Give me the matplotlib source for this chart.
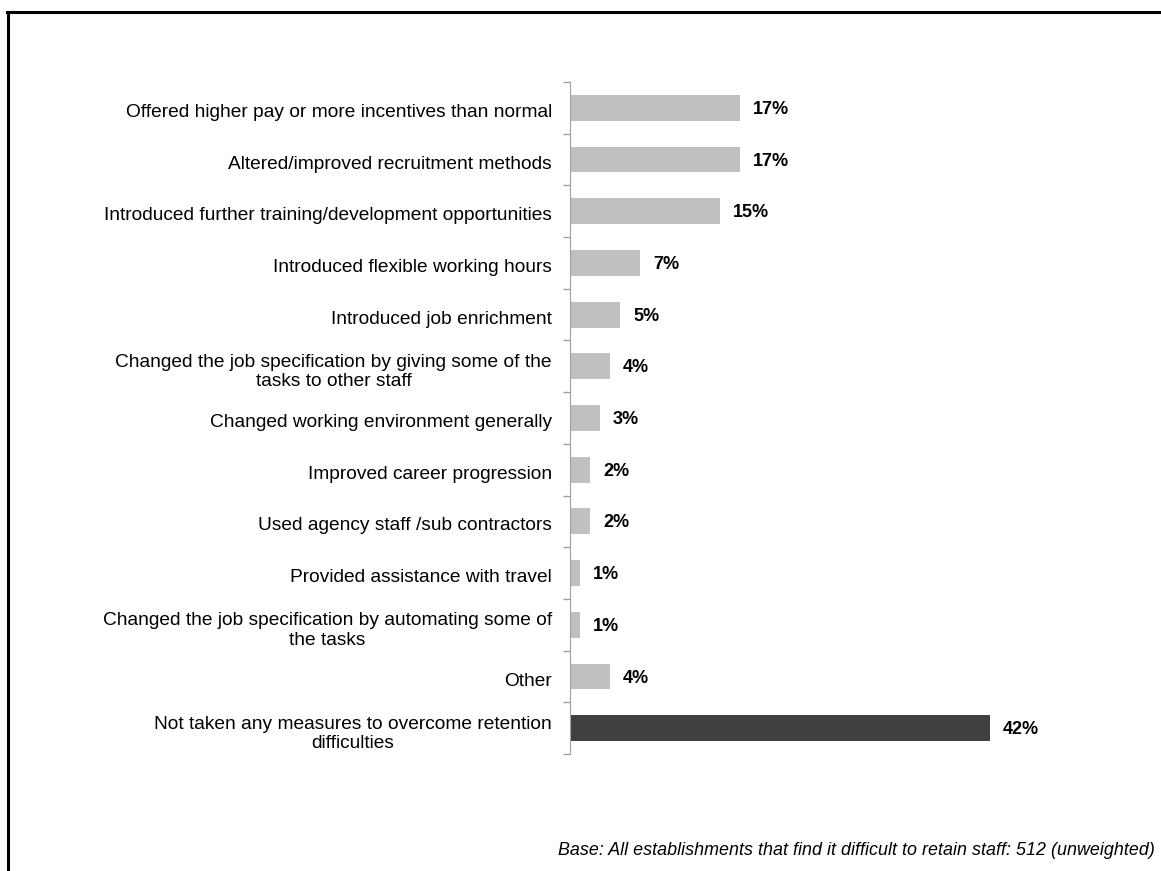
import numpy as np
import matplotlib.pyplot as plt
from matplotlib.lines import Line2D

plt.rcParams['font.family'] = ['Liberation Sans', 'DejaVu Sans']

measures = [
    "Offered higher pay or more incentives than normal",
    "Altered/improved recruitment methods",
    "Introduced further training/development opportunities",
    "Introduced flexible working hours",
    "Introduced job enrichment",
    "Changed the job specification by giving some of the\ntasks to other staff",
    "Changed working environment generally",
    "Improved career progression",
    "Used agency staff /sub contractors",
    "Provided assistance with travel",
    "Changed the job specification by automating some of\nthe tasks",
    "Other",
    "Not taken any measures to overcome retention\ndifficulties",
]
shares = [17, 17, 15, 7, 5, 4, 3, 2, 2, 1, 1, 4, 42]
base_note = "Base: All establishments that find it difficult to retain staff: 512 (unweighted)"

fig = plt.figure(figsize=(11.61, 8.71), dpi=100)
ax = fig.add_axes([570 / 1161, 1 - 754 / 871, 500 / 1161, 672 / 871])

n = len(measures)
y = np.arange(n)
colors = ['#c0c0c0'] * (n - 1) + ['#404040']
ax.barh(y, shares, height=0.5, color=colors)

for yi, v in zip(y, shares):
    ax.text(v + 1.3, yi + 0.03, f"{v}%", va='center', ha='left', fontsize=13, fontweight='bold')

ax.set_ylim(n - 0.5, -0.5)
ax.set_xlim(0, 50)

# category labels sit between the boundary ticks
ax.set_yticks(y + 0.05)
ax.set_yticklabels(measures, fontsize=13.8, linespacing=1.2, multialignment='center')
ax.tick_params(axis='y', length=0, pad=13)
ax.set_yticks(np.arange(n + 1) - 0.5, minor=True)
ax.tick_params(axis='y', which='minor', length=5, color='#a0a0a0', width=1)
ax.set_xticks([])

for s in ['top', 'right', 'bottom']:
    ax.spines[s].set_visible(False)
ax.spines['left'].set_color('#a0a0a0')

fig.text(1155 / 1161, 1 - 850 / 871, base_note, ha='right', va='center',
         fontsize=12.85, style='italic')

# outer frame (left and top edges)
fig.add_artist(Line2D([8 / 1161, 8 / 1161], [0, 1 - 12 / 871], transform=fig.transFigure,
                      color='black', lw=2.2))
fig.add_artist(Line2D([7 / 1161, 1], [1 - 12 / 871, 1 - 12 / 871], transform=fig.transFigure,
                      color='black', lw=2.2))

fig.savefig('out.png', dpi=100)
